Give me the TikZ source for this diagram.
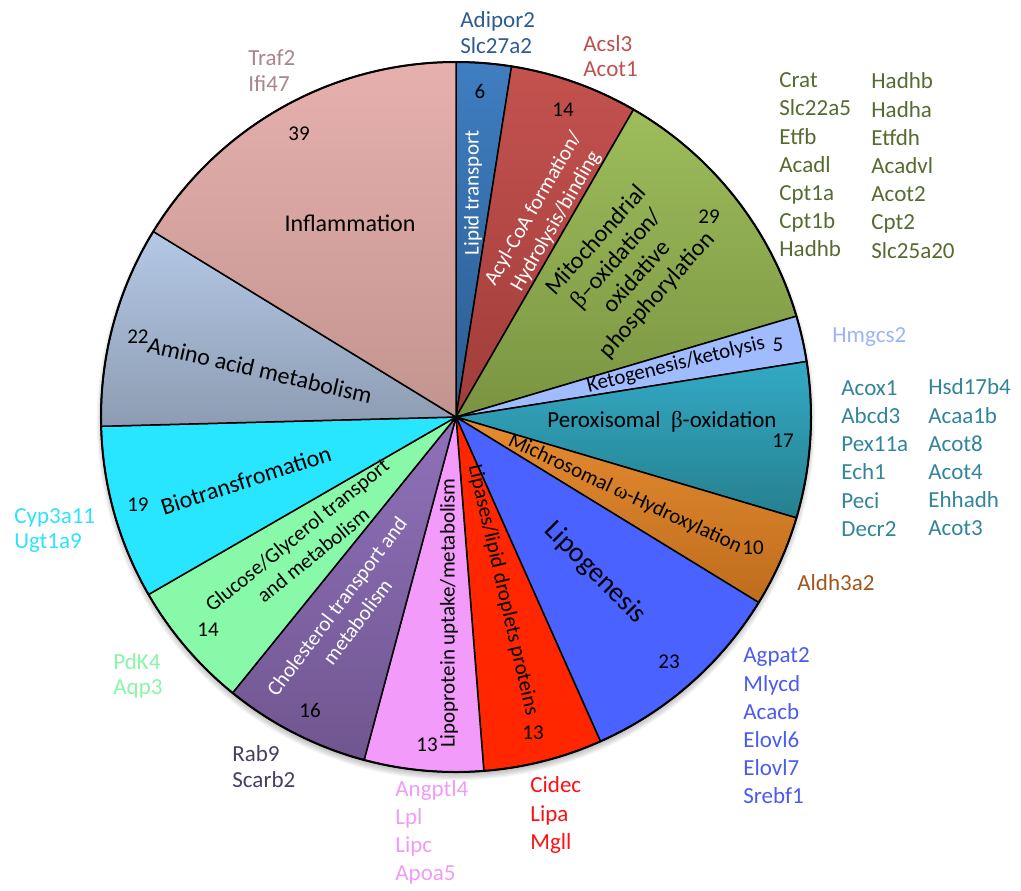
\documentclass[tikz,border=0pt]{standalone}
\usepackage{fontspec}
\setmainfont{Carlito}
\newfontfamily\grk{Liberation Serif}

\definecolor{lipidT}{HTML}{3F7EC1}\definecolor{lipidB}{HTML}{2C5C90}
\definecolor{acylT}{HTML}{C4524F}\definecolor{acylB}{HTML}{A03D3A}
\definecolor{mitoT}{HTML}{9DBD5B}\definecolor{mitoB}{HTML}{7A9441}
\definecolor{keto}{HTML}{A0BCFF}
\definecolor{peroxT}{HTML}{33A9C4}\definecolor{peroxB}{HTML}{25808F}
\definecolor{microT}{HTML}{E58B30}\definecolor{microB}{HTML}{BE6D1D}
\definecolor{lipogen}{HTML}{4A62FF}
\definecolor{lipase}{HTML}{FF2600}
\definecolor{lprot}{HTML}{F29BFA}
\definecolor{cholT}{HTML}{9071BA}\definecolor{cholB}{HTML}{705690}
\definecolor{gluc}{HTML}{87F9A8}
\definecolor{bio}{HTML}{28E6FF}
\definecolor{aminoT}{HTML}{B4C8E6}\definecolor{aminoB}{HTML}{8D9CB2}
\definecolor{inflamT}{HTML}{E6B0AE}\definecolor{inflamB}{HTML}{C3948F}

\definecolor{inflamtxt}{HTML}{A9858C}
\definecolor{lipidtxt}{HTML}{2E5B92}
\definecolor{acyltxt}{HTML}{C0504D}
\definecolor{mitotxt}{HTML}{556B2F}
\definecolor{ketotxt}{HTML}{9CB4F8}
\definecolor{peroxtxt}{HTML}{31849B}
\definecolor{microtxt}{HTML}{A0561A}
\definecolor{lipogentxt}{HTML}{4B5BF0}
\definecolor{lipasetxt}{HTML}{FF1010}
\definecolor{lprottxt}{HTML}{F09BF7}
\definecolor{choltxt}{HTML}{4A3D63}
\definecolor{gluctxt}{HTML}{88F5A8}
\definecolor{biotxt}{HTML}{2DE2FF}

\begin{document}
\begin{tikzpicture}[x=0.5pt,y=0.5pt,
    slice/.style={draw=black,line width=0.75pt,line join=round},
    rim/.style={draw=black,line width=1pt},
    sector/.style={font=\fontsize{10.5}{12.8}\selectfont,align=center,inner sep=0pt},
    count/.style={font=\fontsize{10.5}{12}\selectfont,inner sep=0pt},
    genes/.style={font=\fontsize{11.5}{14.1}\selectfont,align=left,anchor=west,inner sep=0pt},
    pair/.style={genes,font=\fontsize{11.5}{12.8}\selectfont}]
  \useasboundingbox (-456,-473) rectangle (565,417);
  \foreach \i in {1,...,6}
    \fill[black,opacity=0.045] (0,-4) circle ({352+1.2*\i});
  \foreach \a/\b/\ct/\cb in {90/81/lipidT/lipidB, 81/60/acylT/acylB,
      60/16.5/mitoT/mitoB, 16.5/9/keto/keto, 9/-16.5/peroxT/peroxB,
      -16.5/-31.5/microT/microB, -31.5/-66/lipogen/lipogen,
      -66/-85.5/lipase/lipase, -85.5/-105/lprot/lprot,
      -105/-129/cholT/cholB, -129/-150/gluc/gluc, -150/-178.5/bio/bio,
      -178.5/-211.5/aminoT/aminoB, -211.5/-270/inflamT/inflamB}
    \draw[slice,top color=\ct,bottom color=\cb] (0,0) -- (\a:355)
      arc[start angle=\a,end angle=\b,radius=355] -- cycle;
  \draw[rim] (0,0) circle (355);

  \node[sector,font=\fontsize{12}{14}\selectfont] (inflam) at (-106,194) {Inflammation};
  \node[count] (inflam-n) at (-157,283) {39};
  \node[sector,text=white,rotate=90] (lipid) at (17,224) {Lipid transport};
  \node[count] (lipid-n) at (24,326) {6};
  \node[sector,text=white,rotate=60] (acyl) at (89,202) {Acyl-CoA formation/\\Hydrolysis/binding};
  \node[count] (acyl-n) at (107,307) {14};
  \node[sector,font=\fontsize{12}{13.6}\selectfont,rotate=48] (mito) at (171,149)
    {Mitochondrial\\{\grk β}–oxidation/\\oxidative\\phosphorylation};
  \node[count] (mito-n) at (253,200) {29};
  \node[sector,rotate=14] (keto) at (220,52) {Ketogenesis/ketolysis};
  \node[count] (keto-n) at (322,72) {5};
  \node[sector,font=\fontsize{11.5}{13}\selectfont] (perox) at (206,-5) {Peroxisomal\ \ {\grk β}-oxidation};
  \node[count] (perox-n) at (327,-24) {17};
  \node[sector,rotate=-25] (micro) at (169,-77) {Michrosomal {\grk ω}-Hydroxylation};
  \node[count] (micro-n) at (297,-131) {10};
  \node[sector,font=\fontsize{14}{16}\selectfont,rotate=-45] (lipogen) at (139,-156) {Lipogenesis};
  \node[count] (lipogen-n) at (213,-245) {23};
  \node[sector,rotate=-77] (lipase) at (47,-173) {Lipases/lipid droplets proteins};
  \node[count] (lipase-n) at (77,-316) {13};
  \node[sector,rotate=90] (lprot) at (-7,-196) {Lipoprotein uptake/metabolism};
  \node[count] (lprot-n) at (-29,-328) {13};
  \node[sector,text=white,rotate=53] (chol) at (-109,-197) {Cholesterol transport and\\metabolism};
  \node[count] (chol-n) at (-146,-293) {16};
  \node[sector,rotate=39] (gluc) at (-151,-128) {Glucose/Glycerol transport\\and metabolism};
  \node[count] (gluc-n) at (-248,-213) {14};
  \node[sector,font=\fontsize{12}{14}\selectfont,rotate=18] (bio) at (-210,-63) {Biotransfromation};
  \node[count] (bio-n) at (-318,-88) {19};
  \node[sector,font=\fontsize{12}{14}\selectfont,rotate=-13] (amino) at (-196,47) {Amino acid metabolism};
  \node[count] (amino-n) at (-318,80) {22};

  \node[pair,text=inflamtxt] (inflam-g) at (-208,346.5) {Traf2\\Ifi47};
  \node[pair,text=lipidtxt] (lipid-g) at (4,384.5) {Adipor2\\Slc27a2};
  \node[pair,text=acyltxt] (acyl-g) at (127,361) {Acsl3\\Acot1};
  \node[genes,text=mitotxt] (mito-g1) at (323,252) {Crat\\Slc22a5\\Etfb\\Acadl\\Cpt1a\\Cpt1b\\Hadhb};
  \node[genes,text=mitotxt] (mito-g2) at (415,251.5) {Hadhb\\Hadha\\Etfdh\\Acadvl\\Acot2\\Cpt2\\Slc25a20};
  \node[genes,text=ketotxt] (keto-g) at (376,80) {Hmgcs2};
  \node[genes,text=peroxtxt] (perox-g1) at (385,-41.5) {Acox1\\Abcd3\\Pex11a\\Ech1\\Peci\\Decr2};
  \node[genes,text=peroxtxt] (perox-g2) at (472,-40.5) {Hsd17b4\\Acaa1b\\Acot8\\Acot4\\Ehhadh\\Acot3};
  \node[genes,text=microtxt] (micro-g) at (341,-166) {Aldh3a2};
  \node[genes,text=lipogentxt] (lipogen-g) at (287,-309) {Agpat2\\Mlycd\\Acacb\\Elovl6\\Elovl7\\Srebf1};
  \node[genes,text=lipasetxt] (lipase-g) at (74,-398) {Cidec\\Lipa\\Mgll};
  \node[genes,text=lprottxt] (lprot-g) at (-61,-415.5) {Angptl4\\Lpl\\Lipc\\Apoa5};
  \node[pair,text=choltxt] (chol-g) at (-224,-349.5) {Rab9\\Scarb2};
  \node[pair,text=gluctxt] (gluc-g) at (-343,-259) {PdK4\\Aqp3};
  \node[pair,text=biotxt] (bio-g) at (-442,-113.5) {Cyp3a11\\Ugt1a9};
\end{tikzpicture}
\end{document}
